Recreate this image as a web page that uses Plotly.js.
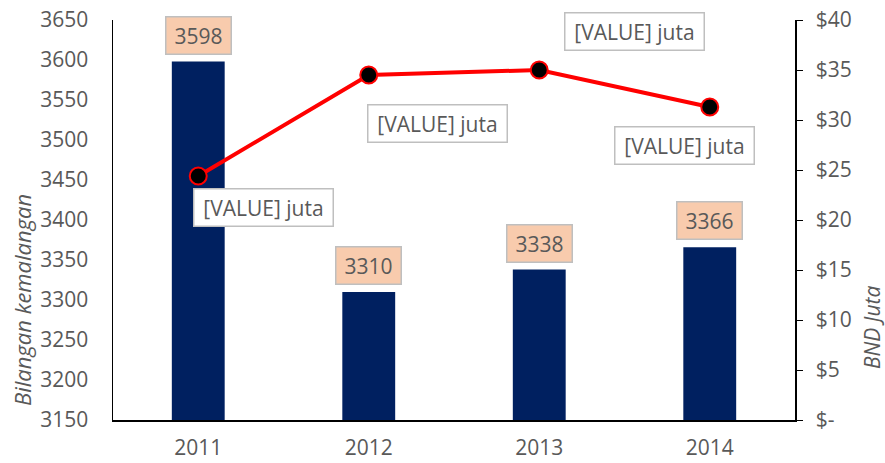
<!DOCTYPE html>
<html>
<head>
<meta charset="utf-8">
<script src="https://cdn.plot.ly/plotly-3.0.1.min.js"></script>
<style>html,body{margin:0;padding:0;background:#fff;}#chart{width:885px;height:463px;}</style>
</head>
<body>
<div id="chart"></div>
<script>
const years = ['2011', '2012', '2013', '2014'];
const accidents = [3598, 3310, 3338, 3366];
const costs = [24.4, 34.5, 35.0, 31.3];
const costLabels = ['[VALUE] juta', '[VALUE] juta', '[VALUE] juta', '[VALUE] juta'];
const y2TickVals = [0, 5, 10, 15, 20, 25, 30, 35, 40];
const y2TickText = ['$-', '$5', '$10', '$15', '$20', '$25', '$30', '$35', '$40'];

const FONT = 'Open Sans, sans-serif';
const GRAY = '#595959';

// label offsets (pixels) for the line labels
const lineLabelShift = [[65, -31], [69, -48], [95, 39], [-25, -38]];

const bars = {
  type: 'bar', x: years, y: accidents, yaxis: 'y',
  marker: {color: '#002060'}, hoverinfo: 'none'
};
const line = {
  type: 'scatter', mode: 'lines+markers', x: years, y: costs, yaxis: 'y2',
  line: {color: '#FF0000', width: 4},
  marker: {color: '#000000', size: 17, line: {color: '#FF0000', width: 2}},
  hoverinfo: 'none'
};

const annotations = [];
years.forEach((yr, i) => {
  annotations.push({
    x: i, y: accidents[i], xref: 'x', yref: 'y', yanchor: 'bottom',
    yshift: 7, showarrow: false, text: String(accidents[i]),
    font: {family: FONT, size: 21, color: GRAY},
    bgcolor: '#F8CBAD', bordercolor: '#BFBFBF', borderwidth: 1.5,
    width: 62, height: 34
  });
  annotations.push({
    x: i, y: costs[i], xref: 'x', yref: 'y2',
    xshift: lineLabelShift[i][0], yshift: lineLabelShift[i][1],
    showarrow: false, text: costLabels[i],
    font: {family: FONT, size: 21, color: GRAY},
    bgcolor: '#FFFFFF', bordercolor: '#BFBFBF', borderwidth: 1.5,
    width: 136, height: 34
  });
});
annotations.push({
  xref: 'paper', yref: 'paper', x: -0.1334, y: 0.30, xanchor: 'center', yanchor: 'middle',
  textangle: -90, showarrow: false, text: 'Bilangan kemalangan',
  font: {family: FONT, size: 22, color: GRAY, style: 'italic'}
});
annotations.push({
  xref: 'paper', yref: 'paper', x: 1.113, y: 0.2325, xanchor: 'center', yanchor: 'middle',
  textangle: -90, showarrow: false, text: 'BND Juta',
  font: {family: FONT, size: 21, color: GRAY, style: 'italic'}
});

const layout = {
  width: 885, height: 463,
  margin: {l: 113, r: 90, t: 20, b: 43},
  paper_bgcolor: '#FFFFFF', plot_bgcolor: '#FFFFFF',
  showlegend: false,
  bargap: 0.69,
  font: {family: FONT, size: 21, color: GRAY},
  xaxis: {
    type: 'category', range: [-0.5, 3.5], showline: true, linecolor: '#000000', linewidth: 1.5,
    ticks: 'outside', ticklen: 8, tickcolor: 'rgba(0,0,0,0)',
    showgrid: false, zeroline: false,
    tickfont: {family: FONT, size: 21, color: GRAY}
  },
  yaxis: {
    range: [3150, 3650], dtick: 50, showline: true, linecolor: '#000000', linewidth: 1.5,
    ticks: 'outside', ticklen: 19, tickcolor: 'rgba(0,0,0,0)',
    showgrid: false, zeroline: false,
    tickfont: {family: FONT, size: 21, color: GRAY}
  },
  yaxis2: {
    range: [0, 40], overlaying: 'y', side: 'right',
    tickvals: y2TickVals, ticktext: y2TickText,
    showline: true, linecolor: '#000000', linewidth: 1.5,
    ticks: 'outside', ticklen: 6, tickcolor: '#000000', tickwidth: 1,
    ticklabelstandoff: 9,
    showgrid: false, zeroline: false,
    tickfont: {family: FONT, size: 21, color: GRAY}
  },
  annotations: annotations
};

Plotly.newPlot('chart', [bars, line], layout, {displayModeBar: false, staticPlot: true});
</script>
</body>
</html>
